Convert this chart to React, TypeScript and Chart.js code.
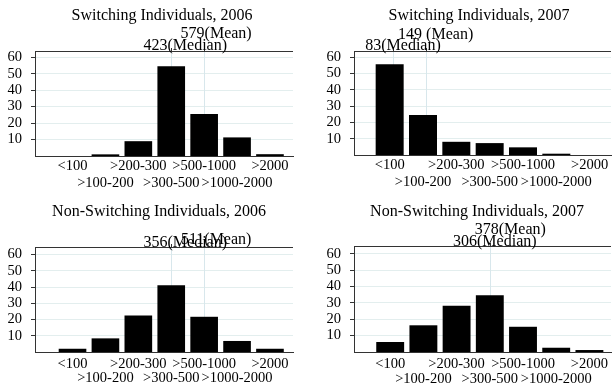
import React, { useEffect, useRef } from 'react';
import { Chart, registerables } from 'chart.js';

Chart.register(...registerables);
Chart.defaults.font.family = '"Liberation Serif", "Times New Roman", serif';

// ---------------- data ----------------
const CATEGORIES = ['<100', '>100-200', '>200-300', '>300-500', '>500-1000', '>1000-2000', '>2000'];
const Y_TICKS = [10, 20, 30, 40, 50, 60];

const TITLES = [
  'Switching Individuals, 2006',
  'Switching Individuals, 2007',
  'Non-Switching Individuals, 2006',
  'Non-Switching Individuals, 2007',
];

const SWITCHING_2006 = [0, 1, 9, 54.5, 25.5, 11.3, 1.1];
const SWITCHING_2007 = [55.7, 24.5, 8.1, 7.3, 4.7, 0.8, 0];
const NON_SWITCHING_2006 = [2, 8.4, 22.5, 41.2, 21.7, 6.8, 2];
const NON_SWITCHING_2007 = [6.1, 16.3, 28.3, 34.6, 15.4, 2.6, 1.2];

const MEAN_LABELS = ['579(Mean)', '149 (Mean)', '511(Mean)', '378(Mean)'];
const MEDIAN_LABELS = ['423(Median)', '83(Median)', '356(Median)', '306(Median)'];
// position of mean / median marker on the category axis (1 = '<100')
const MEAN_POS = [5, 2.08, 5, 4];
const MEDIAN_POS = [4, 1.1, 4, 4];

const SERIES = [SWITCHING_2006, SWITCHING_2007, NON_SWITCHING_2006, NON_SWITCHING_2007];

// ---------------- layout / style ----------------
const PANELS = [
  { left: 0, top: 0, w: 306, h: 193, plotLeft: 35, plotTop: 51, plotRight: 293, plotBottom: 156,
    xMin: -0.14, xMax: 7.7, yMax: 63.8, titleX: 162, titleY: 20,
    meanDx: 12, medDx: 14, meanY: 37.5, medY: 49.5, tickPad: 1, tickLH: 17.6 },
  { left: 306, top: 0, w: 307, h: 193, plotLeft: 48, plotTop: 51, plotRight: 305, plotBottom: 155,
    xMin: -0.07, xMax: 7.64, yMax: 63.8, titleX: 173, titleY: 19.5,
    meanDx: 10, medDx: 10, meanY: 39, medY: 49.5, tickPad: 1, tickLH: 17.6 },
  { left: 0, top: 193, w: 306, h: 194, plotLeft: 35, plotTop: 54, plotRight: 293, plotBottom: 159,
    xMin: -0.14, xMax: 7.7, yMax: 64.7, titleX: 159, titleY: 23.3,
    meanDx: 12, medDx: 14, meanY: 50.5, medY: 54, tickPad: 5, tickLH: 14 },
  { left: 306, top: 193, w: 307, h: 194, plotLeft: 48, plotTop: 53, plotRight: 305, plotBottom: 159,
    xMin: -0.09, xMax: 7.65, yMax: 64.7, titleX: 171, titleY: 22.7,
    meanDx: 20.5, medDx: 5, meanY: 40.5, medY: 53, tickPad: 4, tickLH: 15.5 },
];

const FONT_FAMILY = '"Liberation Serif", "Times New Roman", serif';
const GRID_COLOR = '#e3eeee';
const VLINE_COLOR = '#d8e7ec';
const AXIS_COLOR = '#333333';

const annotPlugin = {
  id: 'annot',
  beforeDatasetsDraw(chart: any, _args: any, opts: any) {
    const { ctx, chartArea: ca, scales } = chart;
    const x = scales.x;
    ctx.save();
    ctx.lineWidth = 1;
    [opts.meanPos, opts.medPos].forEach((p: number) => {
      const px = Math.round(x.getPixelForValue(p)) + 0.5;
      ctx.strokeStyle = VLINE_COLOR;
      ctx.beginPath();
      ctx.moveTo(px, ca.top);
      ctx.lineTo(px, ca.bottom);
      ctx.stroke();
    });
    ctx.restore();
  },
  afterDraw(chart: any, _args: any, opts: any) {
    const { ctx, chartArea: ca, scales } = chart;
    const x = scales.x;
    ctx.save();
    // top frame line
    ctx.strokeStyle = AXIS_COLOR;
    ctx.lineWidth = 1;
    const ty = Math.round(ca.top) + 0.5;
    ctx.beginPath();
    ctx.moveTo(ca.left, ty);
    ctx.lineTo(ca.right, ty);
    ctx.stroke();
    // small marks above the frame at mean / median
    [opts.meanPos, opts.medPos].forEach((p: number) => {
      const px = Math.round(x.getPixelForValue(p)) + 0.5;
      ctx.beginPath();
      ctx.moveTo(px, ca.top - 3);
      ctx.lineTo(px, ca.top);
      ctx.stroke();
    });
    // texts
    ctx.fillStyle = '#000';
    ctx.textAlign = 'center';
    ctx.textBaseline = 'alphabetic';
    ctx.font = `16px ${FONT_FAMILY}`;
    ctx.fillText(opts.title, opts.titleX, opts.titleY);
    ctx.fillText(opts.meanLabel, x.getPixelForValue(opts.meanPos) + opts.meanDx, opts.meanY);
    ctx.fillText(opts.medLabel, x.getPixelForValue(opts.medPos) + opts.medDx, opts.medY);
    ctx.restore();
  },
};

function Panel({ idx }: { idx: number }) {
  const ref = useRef<HTMLCanvasElement | null>(null);
  const p = PANELS[idx];
  useEffect(() => {
    if (!ref.current) return;
    const values = SERIES[idx];
    const chart = new Chart(ref.current, {
      type: 'bar',
      data: {
        datasets: [
          {
            data: values.map((v, i) => ({ x: i + 1, y: v })),
            backgroundColor: '#000',
            borderWidth: 0,
            barPercentage: 0.84,
            categoryPercentage: 1,
          },
        ],
      },
      plugins: [annotPlugin],
      options: {
        responsive: false,
        animation: false,
        events: [],
        layout: { padding: { left: 0, top: p.plotTop, right: p.w - p.plotRight, bottom: 0 } },
        plugins: {
          legend: { display: false },
          tooltip: { enabled: false },
          title: { display: false },
          annot: {
            title: TITLES[idx],
            titleX: p.titleX,
            titleY: p.titleY,
            meanLabel: MEAN_LABELS[idx],
            medLabel: MEDIAN_LABELS[idx],
            meanPos: MEAN_POS[idx],
            medPos: MEDIAN_POS[idx],
            meanDx: p.meanDx,
            medDx: p.medDx,
            meanY: p.meanY,
            medY: p.medY,
          },
        } as any,
        scales: {
          x: {
            type: 'linear',
            min: p.xMin,
            max: p.xMax,
            offset: false,
            grid: { display: false, drawTicks: false },
            border: { display: true, color: AXIS_COLOR, width: 1 },
            afterBuildTicks: (scale: any) => {
              scale.ticks = CATEGORIES.map((_, i) => ({ value: i + 1 }));
            },
            afterFit: (scale: any) => {
              scale.height = p.h - p.plotBottom;
            },
            ticks: {
              autoSkip: false,
              maxRotation: 0,
              minRotation: 0,
              padding: p.tickPad,
              color: '#000',
              font: { size: 14.5, family: FONT_FAMILY, lineHeight: `${p.tickLH}px` },
              callback: (_v: any, i: number) => (i % 2 === 0 ? [CATEGORIES[i]] : ['', CATEGORIES[i]]),
            },
          },
          y: {
            type: 'linear',
            min: 0,
            max: p.yMax,
            afterBuildTicks: (scale: any) => {
              scale.ticks = Y_TICKS.map((v) => ({ value: v }));
            },
            afterFit: (scale: any) => {
              scale.width = p.plotLeft;
            },
            grid: { color: GRID_COLOR, tickColor: AXIS_COLOR, tickLength: 4, drawTicks: true },
            border: { display: true, color: AXIS_COLOR, width: 1 },
            ticks: {
              padding: 9,
              color: '#000',
              font: { size: 14.5, family: FONT_FAMILY },
            },
          },
        },
      } as any,
    });
    return () => chart.destroy();
  }, [idx]);
  return (
    <canvas
      ref={ref}
      width={p.w}
      height={p.h}
      style={{ position: 'absolute', left: p.left, top: p.top, width: p.w, height: p.h }}
    />
  );
}

export default function App() {
  return (
    <div style={{ position: 'fixed', left: 0, top: 0, width: 613, height: 387, background: '#fff' }}>
      {PANELS.map((_, i) => (
        <Panel key={i} idx={i} />
      ))}
    </div>
  );
}
